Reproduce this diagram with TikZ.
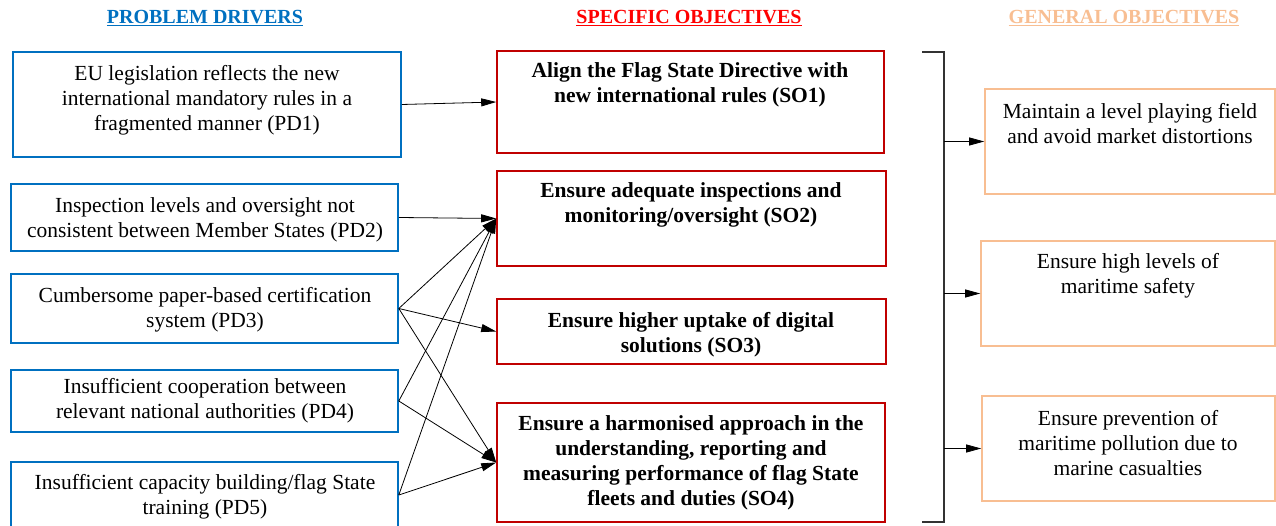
\documentclass[tikz,border=0pt]{standalone}
\usepackage{fontspec}
\setmainfont{Liberation Serif}
\usepackage{tikz}
\usetikzlibrary{arrows.meta,fit,calc}

\definecolor{pdblue}{RGB}{0,112,192}
\definecolor{sored}{RGB}{192,0,0}
\definecolor{headred}{RGB}{255,0,0}
\definecolor{gopeach}{RGB}{248,190,146}

\begin{document}
\begin{tikzpicture}[x=1pt,y=-1pt,
every node/.style={font=\fontsize{21.5}{25}\selectfont},
pd/.style={draw=pdblue,line width=1.6pt,inner sep=0pt},
so/.style={draw=sored,line width=1.6pt,inner sep=0pt},
go/.style={draw=gopeach,line width=1.6pt,inner sep=0pt},
txt/.style={align=center,inner sep=0pt},
bold/.style={font=\fontsize{21.5}{25}\selectfont\bfseries},
head/.style={font=\fontsize{20}{24}\selectfont\bfseries},
arr/.style={-{Triangle[length=15pt,width=8pt]},line width=0.8pt}]
\useasboundingbox (0,0) rectangle (1276,526);

% headings
\node[head,text=pdblue] (h1) at (205,18) {\underline{PROBLEM DRIVERS}};
\node[head,text=headred] (h2) at (689,18) {\underline{SPECIFIC OBJECTIVES}};
\node[head,text=gopeach] (h3) at (1124,18) {\underline{GENERAL OBJECTIVES}};

% problem drivers
\node[pd,fit={(13,52) (401,157)}] (pd1) {};
\node[pd,fit={(11,184) (398,251)}] (pd2) {};
\node[pd,fit={(11,274) (398,343)}] (pd3) {};
\node[pd,fit={(11,370) (398,432)}] (pd4) {};
\node[pd,fit={(11,462) (398,528)}] (pd5) {};
\node[txt] (t1) at (207,100) {EU legislation reflects the new\\international mandatory rules in a\\fragmented manner (PD1)};
\node[txt] (t2) at (205,220) {Inspection levels and oversight not\\consistent between Member States (PD2)};
\node[txt] (t3) at (205,310) {Cumbersome paper-based certification\\system (PD3)};
\node[txt] (t4) at (205,401) {Insufficient cooperation between\\relevant national authorities (PD4)};
\node[txt] (t5) at (205,497) {Insufficient capacity building/flag State\\training (PD5)};

% specific objectives
\node[so,fit={(497,51) (884,153)}] (so1) {};
\node[so,fit={(497,171) (886,266)}] (so2) {};
\node[so,fit={(497,299) (886,364)}] (so3) {};
\node[so,fit={(497,403) (885,522)}] (so4) {};
\node[txt,bold] (s1) at (690,85) {Align the Flag State Directive with\\new international rules (SO1)};
\node[txt,bold] (s2) at (691,205) {Ensure adequate inspections and\\monitoring/oversight (SO2)};
\node[txt,bold] (s3) at (691,335) {Ensure higher uptake of digital\\solutions (SO3)};
\node[txt,bold] (s4) at (691,463) {Ensure a harmonised approach in the\\understanding, reporting and\\measuring performance of flag State\\fleets and duties (SO4)};

% general objectives
\node[go,fit={(985,89) (1275,194)}] (go1) {};
\node[go,fit={(981,241) (1275,346)}] (go2) {};
\node[go,fit={(982,396) (1275,501)}] (go3) {};
\node[txt] (g1) at (1130,124) {Maintain a level playing field\\and avoid market distortions};
\node[txt] (g2) at (1128,276) {Ensure high levels of\\maritime safety};
\node[txt] (g3) at (1128,443) {Ensure prevention of\\maritime pollution due to\\marine casualties};

% drivers to objectives
\draw[arr] (pd1.east) -- (so1.west);
\draw[arr] (pd2.east) -- (so2.west);
\draw[arr] (pd3.east) -- (so2.west);
\draw[arr] (pd3.east) -- (so3.west);
\draw[arr] (pd3.east) -- (so4.west);
\draw[arr] (pd4.east) -- (so2.west);
\draw[arr] (pd4.east) -- (so4.west);
\draw[arr] (pd5.east) -- (so2.west);
\draw[arr] (pd5.east) -- (so4.west);

% bracket
\coordinate (bt) at (944,52);
\coordinate (bb) at (944,522);
\draw[line width=1.2pt,black!80] ($(bt)+(-22,0)$) -- (bt) -- (bb) -- ($(bb)+(-22,0)$);
\draw[arr] (bt |- go1.west) -- (go1.west);
\draw[arr] (bt |- go2.west) -- (go2.west);
\draw[arr] (bt |- go3.west) -- (go3.west);
\end{tikzpicture}
\end{document}
